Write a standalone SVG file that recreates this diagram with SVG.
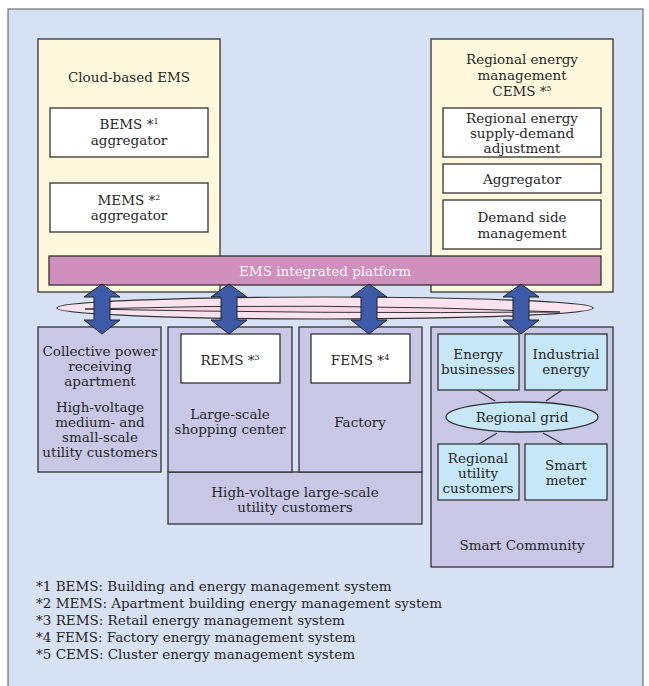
<svg xmlns="http://www.w3.org/2000/svg" width="649" height="686" viewBox="0 0 649 686">
<style>
text{font-family:"DejaVu Serif","Liberation Serif",serif;font-size:13.5px;fill:#262626;text-anchor:middle}
.foot{text-anchor:start;font-size:13.5px}
.yel{fill:#fef9dc;stroke:#333;stroke-width:1.3}
.wht{fill:#fff;stroke:#333;stroke-width:1.3}
.lav{fill:#c8c8e6;stroke:#333;stroke-width:1.3}
.blu{fill:#c5e7f8;stroke:#333;stroke-width:1.3}
.arr{fill:#3d5ba9;stroke:#222;stroke-width:1}
.ln{stroke:#333;stroke-width:1.2;fill:none}
.sup{font-size:8px}
</style>
<rect x="0" y="0" width="649" height="686" fill="#fff"/>
<rect id="frame" x="8" y="9" width="635" height="700" fill="#d6e1f3" stroke="#555" stroke-width="1"/>

<g id="cloud-ems">
<rect class="yel" x="38" y="39" width="182" height="253"/>
<text x="129" y="82">Cloud-based EMS</text>
</g>
<g id="bems">
<rect class="wht" x="50" y="108" width="158" height="49"/>
<text x="129" y="129">BEMS *<tspan class="sup" dy="-5">1</tspan></text>
<text x="129" y="145">aggregator</text>
</g>
<g id="mems">
<rect class="wht" x="50" y="183" width="158" height="49"/>
<text x="129" y="205">MEMS *<tspan class="sup" dy="-5">2</tspan></text>
<text x="129" y="220">aggregator</text>
</g>

<g id="cems">
<rect class="yel" x="431" y="39" width="182" height="253"/>
<text x="522" y="64">Regional energy</text>
<text x="522" y="80">management</text>
<text x="522" y="96">CEMS *<tspan class="sup" dy="-5">5</tspan></text>
</g>
<g id="supply-demand">
<rect class="wht" x="443" y="108" width="158" height="49"/>
<text x="522" y="123">Regional energy</text>
<text x="522" y="138">supply-demand</text>
<text x="522" y="153">adjustment</text>
</g>
<g id="aggregator">
<rect class="wht" x="443" y="164" width="158" height="29"/>
<text x="522" y="184">Aggregator</text>
</g>
<g id="dsm">
<rect class="wht" x="443" y="200" width="158" height="49"/>
<text x="522" y="222">Demand side</text>
<text x="522" y="238">management</text>
</g>

<g id="platform">
<rect x="49" y="256" width="552" height="29" fill="#cf90be" stroke="#333" stroke-width="1.3"/>
<text x="325" y="276" style="fill:#fdf6f0">EMS integrated platform</text>
</g>

<g id="apartment">
<rect class="lav" x="38" y="327" width="123" height="145"/>
<text x="100" y="356">Collective power</text>
<text x="100" y="371">receiving</text>
<text x="100" y="386">apartment</text>
<text x="100" y="412">High-voltage</text>
<text x="100" y="427">medium- and</text>
<text x="100" y="442">small-scale</text>
<text x="100" y="457">utility customers</text>
</g>

<g id="highvoltage-large">
<rect class="lav" x="168" y="472" width="254" height="52"/>
<text x="295" y="497">High-voltage large-scale</text>
<text x="295" y="512">utility customers</text>
</g>
<g id="shopping">
<rect class="lav" x="168" y="327" width="124" height="145"/>
<text x="230" y="419">Large-scale</text>
<text x="230" y="434">shopping center</text>
</g>
<g id="rems">
<rect class="wht" x="181" y="334" width="99" height="49"/>
<text x="230" y="365">REMS *<tspan class="sup" dy="-5">3</tspan></text>
</g>
<g id="factory">
<rect class="lav" x="299" y="327" width="123" height="145"/>
<text x="360" y="427">Factory</text>
</g>
<g id="fems">
<rect class="wht" x="311" y="334" width="99" height="49"/>
<text x="360" y="365">FEMS *<tspan class="sup" dy="-5">4</tspan></text>
</g>

<g id="smart-community">
<rect class="lav" x="431" y="327" width="182" height="240"/>
<text x="522" y="550">Smart Community</text>
</g>

<g id="connectors">
<path class="ln" d="M477,390 L495,401 M562,390 L546,401 M497,433 L479,444 M543,433 L563,444"/>
</g>

<g id="energy-businesses">
<rect class="blu" x="438" y="334" width="81" height="56"/>
<text x="478" y="359">Energy</text>
<text x="478" y="374">businesses</text>
</g>
<g id="industrial-energy">
<rect class="blu" x="525" y="334" width="82" height="56"/>
<text x="566" y="359">Industrial</text>
<text x="566" y="374">energy</text>
</g>
<g id="regional-grid">
<ellipse class="blu" cx="522" cy="417" rx="76" ry="15"/>
<text x="522" y="422">Regional grid</text>
</g>
<g id="regional-customers">
<rect class="blu" x="438" y="444" width="81" height="56"/>
<text x="478" y="463">Regional</text>
<text x="478" y="478">utility</text>
<text x="478" y="493">customers</text>
</g>
<g id="smart-meter">
<rect class="blu" x="525" y="444" width="82" height="56"/>
<text x="566" y="470">Smart</text>
<text x="566" y="485">meter</text>
</g>

<g id="ring">
<ellipse cx="325" cy="308" rx="268" ry="11" fill="#fbe3ee" stroke="#333" stroke-width="1.2"/>
<path d="M85,309 Q320,302 560,312 Q320,314 85,309 Z" fill="#f6d6e4" stroke="#333" stroke-width="1"/>
</g>

<g id="arrows">
<path class="arr" d="M102,284 L120,297 L110,297 L110,320 L120,320 L102,334 L84,320 L94,320 L94,297 L84,297 Z"/>
<path class="arr" d="M229,284 L247,297 L237,297 L237,320 L247,320 L229,334 L211,320 L221,320 L221,297 L211,297 Z"/>
<path class="arr" d="M369,284 L387,297 L377,297 L377,320 L387,320 L369,334 L351,320 L361,320 L361,297 L351,297 Z"/>
<path class="arr" d="M521,284 L539,297 L529,297 L529,320 L539,320 L521,334 L503,320 L513,320 L513,297 L503,297 Z"/>
</g>

<g id="footnotes">
<text class="foot" x="36" y="591">*1 BEMS:  Building and energy management system</text>
<text class="foot" x="36" y="608">*2 MEMS: Apartment building energy management system</text>
<text class="foot" x="36" y="625">*3 REMS:  Retail energy management system</text>
<text class="foot" x="36" y="642">*4 FEMS:  Factory energy management system</text>
<text class="foot" x="36" y="659">*5 CEMS:  Cluster energy management system</text>
</g>
</svg>
